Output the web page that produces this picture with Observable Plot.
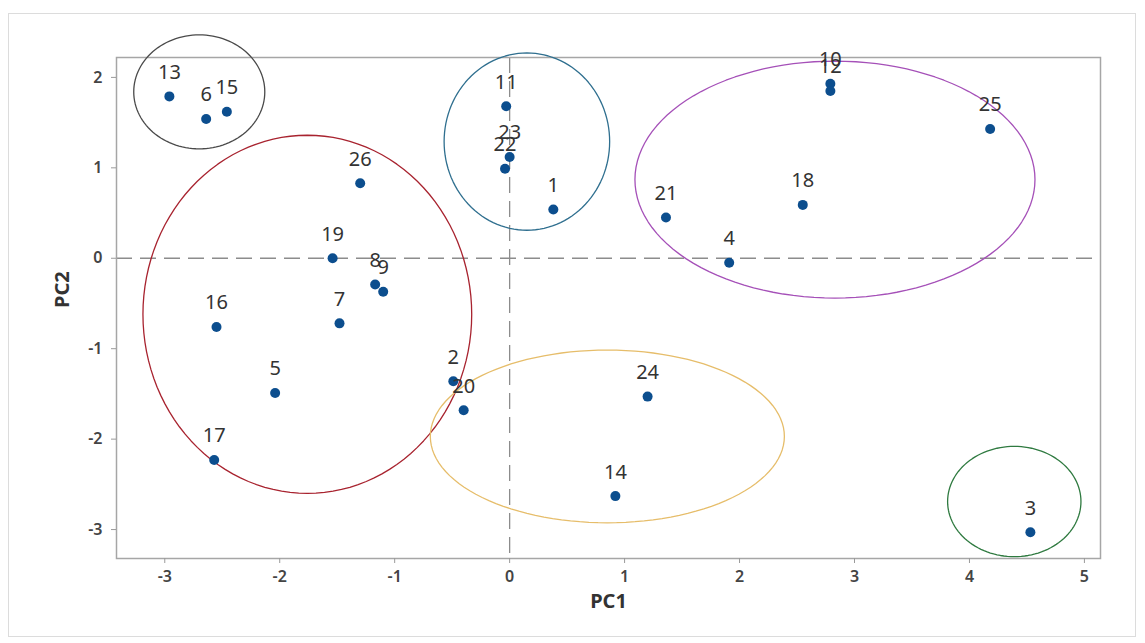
<!DOCTYPE html>
<html>
<head>
<meta charset="utf-8">
<script src="https://cdn.jsdelivr.net/npm/d3@7"></script>
<script src="https://cdn.jsdelivr.net/npm/@observablehq/plot@0.6"></script>
<style>
  body { margin: 0; background: #fff; }
  #wrap { position: relative; width: 1145px; height: 643px; overflow: hidden; }
  #border { position: absolute; left: 8px; top: 13px; width: 1128px; height: 624px; border: 1px solid #dcdcdc; box-sizing: border-box; }
  #chart { position: absolute; left: 0; top: 0; }
</style>
</head>
<body>
<div id="wrap"><div id="border"></div><div id="chart"></div></div>
<script>
// ---- data ----
const sampleIds = [1, 2, 3, 4, 5, 6, 7, 8, 9, 10, 11, 12, 13, 14, 15, 16, 17, 18, 19, 20, 21, 22, 23, 24, 25, 26];
const pc1 = [0.38, -0.49, 4.53, 1.91, -2.04, -2.64, -1.48, -1.17, -1.10, 2.79, -0.03, 2.79, -2.96, 0.92, -2.46, -2.55, -2.57, 2.55, -1.54, -0.40, 1.36, -0.04, 0.00, 1.20, 4.18, -1.30];
const pc2 = [0.54, -1.36, -3.03, -0.05, -1.49, 1.54, -0.72, -0.29, -0.37, 1.93, 1.68, 1.85, 1.79, -2.63, 1.62, -0.76, -2.23, 0.59, 0.00, -1.68, 0.45, 0.99, 1.12, -1.53, 1.43, 0.83];

// cluster ellipses (centre and semi-axes in PC units)
const clusterCx = [-2.70, 0.15, -1.76, 2.83, 0.85, 4.39];
const clusterCy = [1.84, 1.29, -0.62, 0.87, -1.97, -2.69];
const clusterRx = [0.57, 0.72, 1.43, 1.74, 1.54, 0.58];
const clusterRy = [0.63, 0.98, 1.98, 1.31, 0.955, 0.61];

const xTicks = [-3, -2, -1, 0, 1, 2, 3, 4, 5];
const yTicks = [-3, -2, -1, 0, 1, 2];
const xTitle = "PC1";
const yTitle = "PC2";

// ---- styles ----
const clusterStroke = ["#4a4a4a", "#2f6f8f", "#a8232f", "#a550b8", "#e6bd6a", "#2f7a40"];
const pointColor = "#0c4e8e";

const points = sampleIds.map((id, i) => ({id, pc1: pc1[i], pc2: pc2[i]}));

function ellipse(i) {
  return d3.range(121).map(k => {
    const t = (k / 120) * 2 * Math.PI;
    return {x: clusterCx[i] + clusterRx[i] * Math.cos(t), y: clusterCy[i] + clusterRy[i] * Math.sin(t)};
  });
}

const fmt = d => String(d);

const chart = Plot.plot({
  width: 1145,
  height: 643,
  marginLeft: 116,
  marginRight: 45,
  marginTop: 57,
  marginBottom: 85,
  style: {fontFamily: "'Noto Sans', 'Open Sans', sans-serif", background: "transparent", overflow: "visible"},
  x: {domain: [-3.42, 5.14], ticks: xTicks},
  y: {domain: [-3.32, 2.22], ticks: yTicks},
  marks: [
    Plot.ruleX([0], {stroke: "#8c8c8c", strokeWidth: 1.3, strokeDasharray: "16,8"}),
    Plot.ruleY([0], {stroke: "#8c8c8c", strokeWidth: 1.3, strokeDasharray: "16,8"}),
    Plot.frame({stroke: "#a6a6a6", strokeWidth: 1.5}),
    Plot.axisX({ticks: xTicks, tickFormat: fmt, tickSize: 5, tickPadding: 7, fontSize: 16, fontWeight: 600, stroke: "#9a9a9a", fill: "#444", label: null}),
    Plot.axisY({ticks: yTicks, tickFormat: fmt, tickSize: 5, tickPadding: 9, fontSize: 16, fontWeight: 600, stroke: "#9a9a9a", fill: "#444", label: null}),
    ...clusterCx.map((c, i) => Plot.line(ellipse(i), {x: "x", y: "y", stroke: clusterStroke[i], strokeWidth: 1.3, curve: "linear-closed"})),
    Plot.dot(points, {x: "pc1", y: "pc2", r: 5, fill: pointColor, stroke: "none"}),
    Plot.text(points, {x: "pc1", y: "pc2", text: "id", dy: -24, fontSize: 20, fill: "#333"}),
    Plot.text([xTitle], {frameAnchor: "bottom", dy: 49, fontSize: 20, fontWeight: 700, fill: "#333"}),
    Plot.text([yTitle], {frameAnchor: "left", dx: -54, rotate: -90, fontSize: 20, fontWeight: 700, fill: "#333"})
  ]
});
document.getElementById("chart").appendChild(chart);
</script>
</body>
</html>
